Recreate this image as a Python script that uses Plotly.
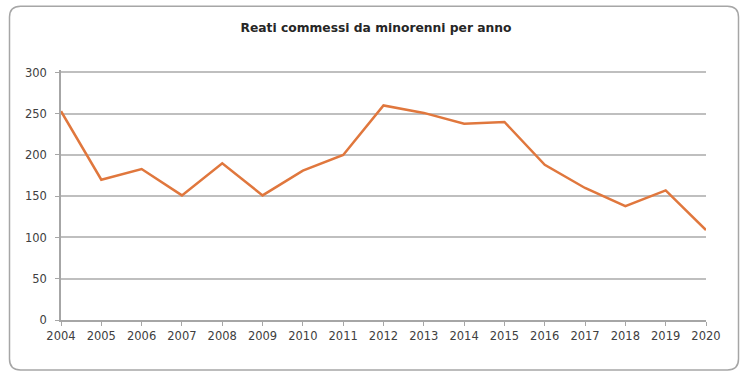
import plotly.graph_objects as go

# Juvenile offences per year
years = list(range(2004, 2021))
offences = [253, 170, 183, 151, 190, 151, 181, 200, 260, 251, 238, 240, 188, 160, 138, 157, 109]

y_ticks = [0, 50, 100, 150, 200, 250, 300]
y_top = 303  # a little headroom so the 300 gridline is not clipped at the edge

W, H = 740, 375
L, R, B = 61, 34, 55
T = 69.5
pw, ph = W - L - R, H - T - B


def P(x, y):
    """Pixel position -> paper coordinates, as a path point."""
    return f"{(x - L) / pw:.5f},{(H - B - y) / ph:.5f}"


# rounded frame around the whole chart, defined in pixels
x0, y0, x1, y1, r = 9.5, 5.5, 738.5, 370.0, 11
frame = (
    f"M {P(x0 + r, y0)} L {P(x1 - r, y0)} Q {P(x1, y0)} {P(x1, y0 + r)} "
    f"L {P(x1, y1 - r)} Q {P(x1, y1)} {P(x1 - r, y1)} "
    f"L {P(x0 + r, y1)} Q {P(x0, y1)} {P(x0, y1 - r)} "
    f"L {P(x0, y0 + r)} Q {P(x0, y0)} {P(x0 + r, y0)} Z"
)

fig = go.Figure()
fig.add_trace(go.Scatter(
    x=years, y=offences, mode="lines",
    line=dict(color="#E0773D", width=2.5),
    hoverinfo="x+y", showlegend=False,
))

tick_font = dict(family="DejaVu Sans", size=11.5, color="#404040")

fig.update_layout(
    width=W, height=H,
    margin=dict(l=L, r=R, t=T, b=B, pad=0),
    paper_bgcolor="white", plot_bgcolor="white",
    title=dict(
        text="<b>Reati commessi da minorenni per anno</b>",
        x=(376 - L) / pw, xref="paper", xanchor="center",
        y=1 - 28 / H, yref="container", yanchor="middle",
        font=dict(family="DejaVu Sans", size=12.3, color="#262626"),
    ),
    xaxis=dict(
        range=[2004, 2020], tickmode="array", tickvals=years,
        ticktext=[str(y) for y in years],
        showgrid=False, zeroline=False,
        showline=True, linecolor="#A6A6A6", linewidth=1.5,
        ticks="outside", ticklen=4, tickcolor="#A6A6A6", tickwidth=1,
        tickfont=tick_font, fixedrange=True,
    ),
    yaxis=dict(
        range=[0, y_top], tickmode="array", tickvals=y_ticks,
        showgrid=True, gridcolor="#BFBFBF", gridwidth=1.5,
        zeroline=False,
        showline=True, linecolor="#A6A6A6", linewidth=1.5,
        ticks="outside", ticklen=4, tickcolor="#A6A6A6", tickwidth=1,
        tickfont=tick_font, ticklabelstandoff=6, fixedrange=True,
    ),
    shapes=[dict(
        type="path", path=frame, xref="paper", yref="paper",
        line=dict(color="#A6A6A6", width=1.5), fillcolor="rgba(0,0,0,0)",
        layer="below",
    )],
)

fig.write_html("out.html")
